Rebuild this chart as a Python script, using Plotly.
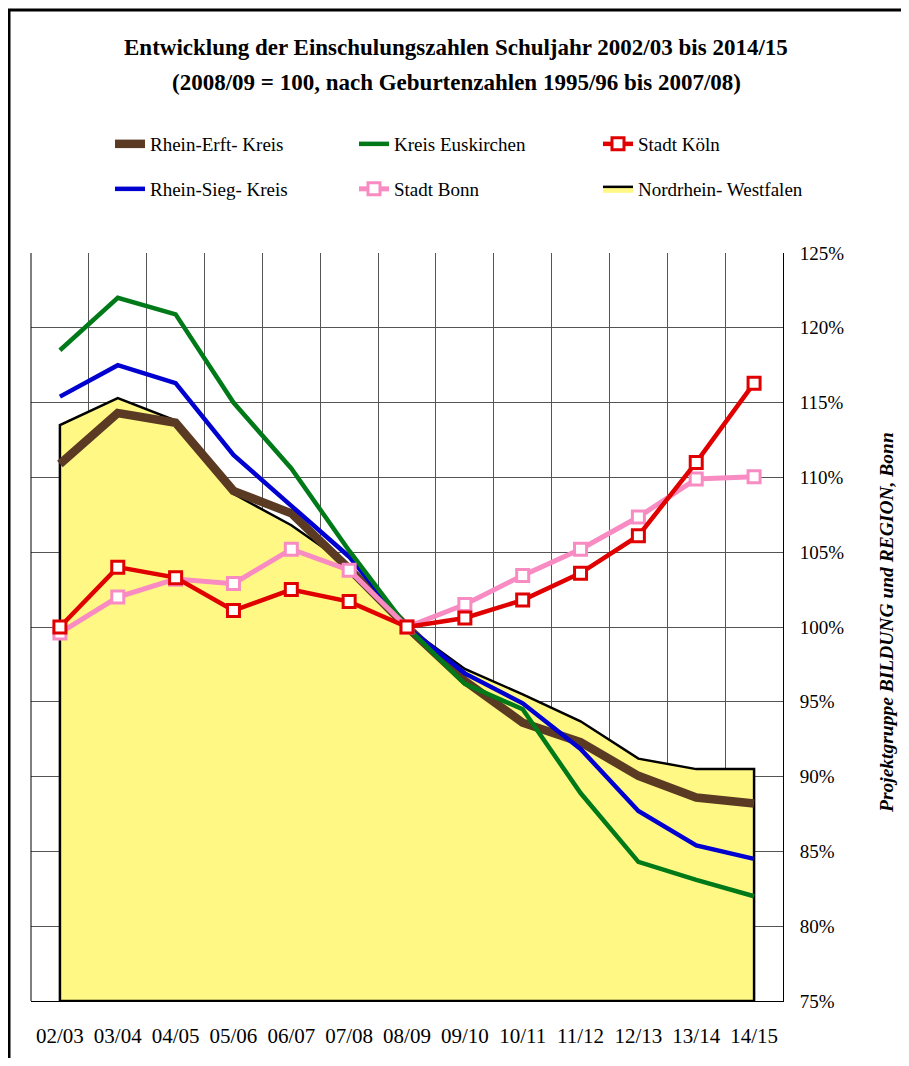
import plotly.graph_objects as go

categories = ["02/03", "03/04", "04/05", "05/06", "06/07", "07/08", "08/09",
              "09/10", "10/11", "11/12", "12/13", "13/14", "14/15"]

nrw = [113.5, 115.3, 113.8, 108.9, 106.8, 104.1, 100.0, 97.2, 95.5, 93.7, 91.2, 90.5, 90.5]
rhein_erft = [110.9, 114.3, 113.65, 109.1, 107.6, 103.9, 100.0, 96.4, 93.6, 92.3, 90.05, 88.6, 88.2]
rhein_sieg = [115.4, 117.5, 116.3, 111.5, 108.1, 104.7, 100.0, 96.9, 94.9, 91.85, 87.7, 85.4, 84.5]
euskirchen = [118.5, 122.0, 120.9, 115.0, 110.6, 105.1, 100.0, 96.2, 94.5, 88.9, 84.3, 83.1, 82.0]
koeln = [100.0, 104.0, 103.3, 101.1, 102.5, 101.7, 100.0, 100.6, 101.8, 103.6, 106.1, 111.0, 116.3]
bonn = [99.6, 102.0, 103.2, 102.9, 105.2, 103.8, 100.0, 101.5, 103.45, 105.2, 107.35, 109.9, 110.05]

y_min, y_max, y_step = 75, 125, 5

title1 = "Entwicklung der Einschulungszahlen Schuljahr 2002/03 bis 2014/15"
title2 = "(2008/09 = 100, nach Geburtenzahlen 1995/96 bis 2007/08)"
side_text = "Projektgruppe BILDUNG und REGION, Bonn"

FONT = "Liberation Serif, Times New Roman, serif"
OFF = 8                      # page body margin of the html page
W, H = 909 - 2 * OFF, 1066 - 2 * OFF
# plot area in page pixels
PL, PR, PT, PB = 31, 783, 253, 1001
L, R, T, B = PL - OFF, PR - OFF, PT - OFF, PB - OFF


def px_x(p):
    return (p - PL) / (PR - PL)


def px_y(p):
    return (PB - p) / (PB - PT)


fig = go.Figure()

# Nordrhein-Westfalen area (closed polygon down to axis minimum)
fig.add_trace(go.Scatter(
    x=[categories[0]] + categories + [categories[-1], categories[0]],
    y=[y_min] + nrw + [y_min, y_min],
    mode="lines", fill="toself", fillcolor="#FFF885",
    line=dict(color="black", width=2.5),
    name="Nordrhein- Westfalen", legend="legend2", legendrank=3,
    hoverinfo="skip",
))

fig.add_trace(go.Scatter(
    x=categories, y=rhein_erft, mode="lines",
    line=dict(color="#5A3A22", width=8.5),
    name="Rhein-Erft- Kreis", legend="legend", legendrank=1,
))
fig.add_trace(go.Scatter(
    x=categories, y=rhein_sieg, mode="lines",
    line=dict(color="#0000D0", width=4.5),
    name="Rhein-Sieg- Kreis", legend="legend2", legendrank=1,
))
fig.add_trace(go.Scatter(
    x=categories, y=euskirchen, mode="lines",
    line=dict(color="#007A18", width=4.5),
    name="Kreis Euskirchen", legend="legend", legendrank=2,
))
fig.add_trace(go.Scatter(
    x=categories, y=bonn, mode="lines+markers",
    line=dict(color="#F98BC3", width=5),
    marker=dict(symbol="square", size=12, color="white",
                line=dict(color="#F98BC3", width=3)),
    name="Stadt Bonn", legend="legend2", legendrank=2,
))
fig.add_trace(go.Scatter(
    x=categories, y=koeln, mode="lines+markers",
    line=dict(color="#E00000", width=4.5),
    marker=dict(symbol="square", size=12, color="white",
                line=dict(color="#E00000", width=3)),
    name="Stadt Köln", legend="legend", legendrank=3,
))

legend_common = dict(
    orientation="h", xanchor="left", yanchor="middle",
    font=dict(family=FONT, size=19, color="black"),
    entrywidth=199, entrywidthmode="pixels",
    bgcolor="rgba(0,0,0,0)", traceorder="normal",
)

fig.update_layout(
    width=W, height=H,
    margin=dict(l=L, r=W - R, t=T, b=H - B, autoexpand=False),
    paper_bgcolor="white", plot_bgcolor="white",
    font=dict(family=FONT, size=19, color="black"),
    showlegend=True,
    legend=dict(x=px_x(110), y=px_y(144), **legend_common),
    legend2=dict(x=px_x(110), y=px_y(189), **legend_common),
    xaxis=dict(
        type="category", categoryorder="array", categoryarray=categories,
        range=[-0.5, len(categories) - 0.5],
        tickson="boundaries", showgrid=True, gridcolor="#555555", gridwidth=1,
        ticks="", showline=True, linecolor="black", linewidth=1,
        zeroline=False, automargin=False,
        tickfont=dict(family=FONT, size=21, color="black"),
        ticklabelstandoff=16,
        fixedrange=True,
    ),
    yaxis=dict(
        side="right", range=[y_min, y_max], tickmode="linear",
        tick0=y_min, dtick=y_step,
        ticksuffix="%", showgrid=True, gridcolor="#555555", gridwidth=1,
        showline=True, linecolor="black", linewidth=1,
        ticks="", zeroline=False, automargin=False,
        tickfont=dict(family=FONT, size=19, color="black"),
        ticklabelstandoff=12,
        fixedrange=True,
    ),
    shapes=[
        # left plot border
        dict(type="line", xref="paper", yref="paper", x0=0, x1=0, y0=0, y1=1,
             line=dict(color="black", width=1)),
        # outer frame: top and left edges
        dict(type="line", xref="paper", yref="paper",
             x0=px_x(8), x1=px_x(909), y0=px_y(10), y1=px_y(10),
             line=dict(color="black", width=3), layer="above"),
        dict(type="line", xref="paper", yref="paper",
             x0=px_x(9), x1=px_x(9), y0=px_y(10), y1=px_y(1066),
             line=dict(color="black", width=3), layer="above"),
    ],
    annotations=[
        dict(text="<b>" + title1 + "</b>", xref="paper", yref="paper",
             x=px_x(456), y=px_y(48), xanchor="center", yanchor="middle",
             showarrow=False, font=dict(family=FONT, size=23, color="black")),
        dict(text="<b>" + title2 + "</b>", xref="paper", yref="paper",
             x=px_x(456), y=px_y(82), xanchor="center", yanchor="middle",
             showarrow=False, font=dict(family=FONT, size=23, color="black")),
        dict(text="<b><i>" + side_text + "</i></b>", xref="paper", yref="paper",
             x=px_x(886), y=px_y(623), xanchor="center", yanchor="middle",
             textangle=-90, showarrow=False,
             font=dict(family=FONT, size=19.5, color="black")),
    ],
)

fig.write_html("out.html")
